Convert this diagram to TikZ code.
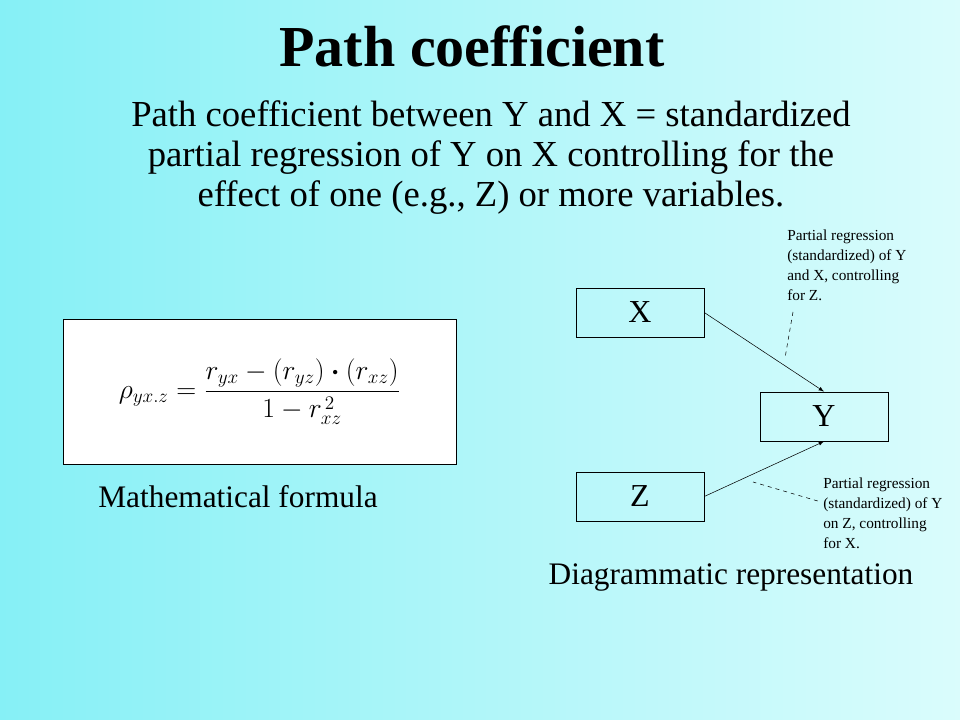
\documentclass[tikz,border=0pt]{standalone}
\usepackage{fontspec}
\usepackage{amsmath}
\setmainfont{Liberation Serif}
\usetikzlibrary{positioning}
\definecolor{bgleft}{HTML}{86F0F6}
\definecolor{bgright}{HTML}{DAFCFC}
\tikzset{
    varbox/.style={
           rectangle,
           draw=black, thin,
           minimum width=96pt,
           minimum height=37pt,
           font=\fontsize{24}{26}\selectfont,
           },
    note/.style={
           align=left,
           anchor=north west,
           inner sep=0pt,
           font=\fontsize{11.5}{15}\selectfont,
           },
}
\begin{document}
\begin{tikzpicture}[x=0.75pt,y=-0.75pt]
    % background
    \shade[left color=bgleft, right color=bgright] (0,0) rectangle (960,720);
    \useasboundingbox (0,0) rectangle (960,720);

    % heading and statement
    \node (title) at (472,46) {\fontsize{43.5}{48}\selectfont\bfseries Path coefficient};
    \node[align=center, font=\fontsize{27.5}{30}\selectfont] (stmt) at (491,158)
        {Path coefficient between Y and X = standardized\\
         partial regression of Y on X controlling for the\\
         effect of one (e.g., Z) or more variables.};

    % formula
    \node[draw=black, fill=white, minimum width=294.75pt, minimum height=108.75pt] (formula) at (259.5,391.5)
        {\fontsize{22}{26}\selectfont $\rho_{yx.z}=\dfrac{r_{yx}-(r_{yz})\boldsymbol{\cdot}(r_{xz})}{1-r_{xz}^{\,2}}$};
    \node (mathcap) at (238,497) {\fontsize{23.5}{26}\selectfont Mathematical formula};

    % variables
    \node[varbox] (x) at (640,312.5) {X};
    \node[varbox] (y) at (824,416.5) {Y};
    \node[varbox] (z) at (640,496.5) {Z};
    \draw[->, >=latex] (x.east) -- (y.north);
    \draw[->, >=latex] (z.east) -- (y.south);

    % annotations
    \node[note] (noteX) at (787,230) {Partial regression\\(standardized) of Y\\and X, controlling\\for Z.};
    \node[note] (noteZ) at (823,478) {Partial regression\\(standardized) of Y\\on Z, controlling\\for X.};
    \coordinate (tipX) at (785,358);
    \coordinate (tipZ) at (753,482);
    \draw[dashed] (793,312) -- (tipX);
    \draw[dashed] ([xshift=-4pt]noteZ.west |- 0,501) -- (tipZ);

    \node (diagcap) at (731,578) {\fontsize{23.5}{26}\selectfont Diagrammatic representation};
\end{tikzpicture}
\end{document}
